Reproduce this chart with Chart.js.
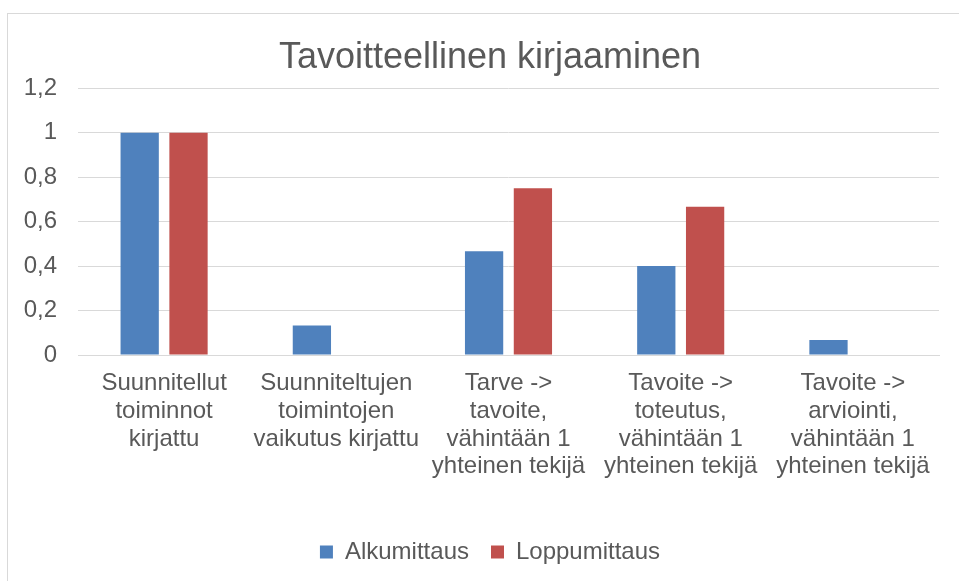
<!DOCTYPE html>
<html>
<head>
<meta charset="utf-8">
<script src="https://cdn.jsdelivr.net/npm/chart.js@4/dist/chart.umd.min.js"></script>
<style>
  html, body { margin: 0; padding: 0; background: #fff; overflow: hidden; }
  #box {
    position: absolute; left: 7px; top: 13px;
    border: 1px solid #d9d9d9; background: #fff;
  }
  #chart { display: block; }
</style>
</head>
<body>
<div id="box"><canvas id="chart" width="964" height="570"></canvas></div>
<script>
(() => {
  "use strict";

  const categories = [
    ["Suunnitellut", "toiminnot", "kirjattu"],
    ["Suunniteltujen", "toimintojen", "vaikutus kirjattu"],
    ["Tarve ->", "tavoite,", "vähintään 1", "yhteinen tekijä"],
    ["Tavoite ->", "toteutus,", "vähintään 1", "yhteinen tekijä"],
    ["Tavoite ->", "arviointi,", "vähintään 1", "yhteinen tekijä"],
  ];
  const alkumittaus = [1, 0.133, 0.467, 0.4, 0.067];
  const loppumittaus = [1, 0, 0.75, 0.667, 0];
  const yTickLabels = ["0", "0,2", "0,4", "0,6", "0,8", "1", "1,2"];

  const textColor = "#595959";
  const gridColor = "#d9d9d9";
  const fontFamily = "'Liberation Sans', Arial, Helvetica, sans-serif";

  Chart.defaults.font.family = fontFamily;
  Chart.defaults.color = textColor;

  new Chart(document.getElementById("chart"), {
    type: "bar",
    data: {
      labels: categories,
      datasets: [
        {
          label: "Alkumittaus",
          data: alkumittaus,
          backgroundColor: "#4f81bd",
          categoryPercentage: 0.567,
          barPercentage: 0.784,
        },
        {
          label: "Loppumittaus",
          data: loppumittaus,
          backgroundColor: "#c0504d",
          categoryPercentage: 0.567,
          barPercentage: 0.784,
        },
      ],
    },
    options: {
      responsive: false,
      animation: false,
      layout: { padding: { left: 0, right: 0, top: 0, bottom: 10 } },
      scales: {
        x: {
          grid: { display: false, drawTicks: false },
          border: { display: true, color: gridColor, width: 1 },
          ticks: {
            padding: 15,
            maxRotation: 0,
            autoSkip: false,
            color: textColor,
            font: { size: 24, lineHeight: 1.15 },
          },
          afterFit: (s) => { s.height = 163; },
        },
        y: {
          min: 0,
          max: 1.2,
          ticks: {
            stepSize: 0.2,
            padding: 21,
            color: textColor,
            font: { size: 24 },
            callback: (v, i) => yTickLabels[i],
          },
          grid: { color: gridColor, lineWidth: 1, drawTicks: false },
          border: { display: false },
          afterFit: (s) => { s.width = 70; },
        },
        y2: {
          position: "right",
          grid: { display: false, drawTicks: false },
          border: { display: false },
          ticks: { display: false },
          afterFit: (s) => { s.width = 33; },
        },
      },
      plugins: {
        title: {
          display: true,
          text: "Tavoitteellinen kirjaaminen",
          color: textColor,
          font: { size: 36, weight: "normal", lineHeight: 1.2 },
          padding: { top: 22, bottom: 9 },
        },
        legend: {
          position: "bottom",
          labels: {
            boxWidth: 13,
            boxHeight: 13,
            padding: 22,
            color: textColor,
            font: { size: 24 },
          },
        },
        tooltip: { enabled: false },
      },
    },
  });
})();
</script>
</body>
</html>
